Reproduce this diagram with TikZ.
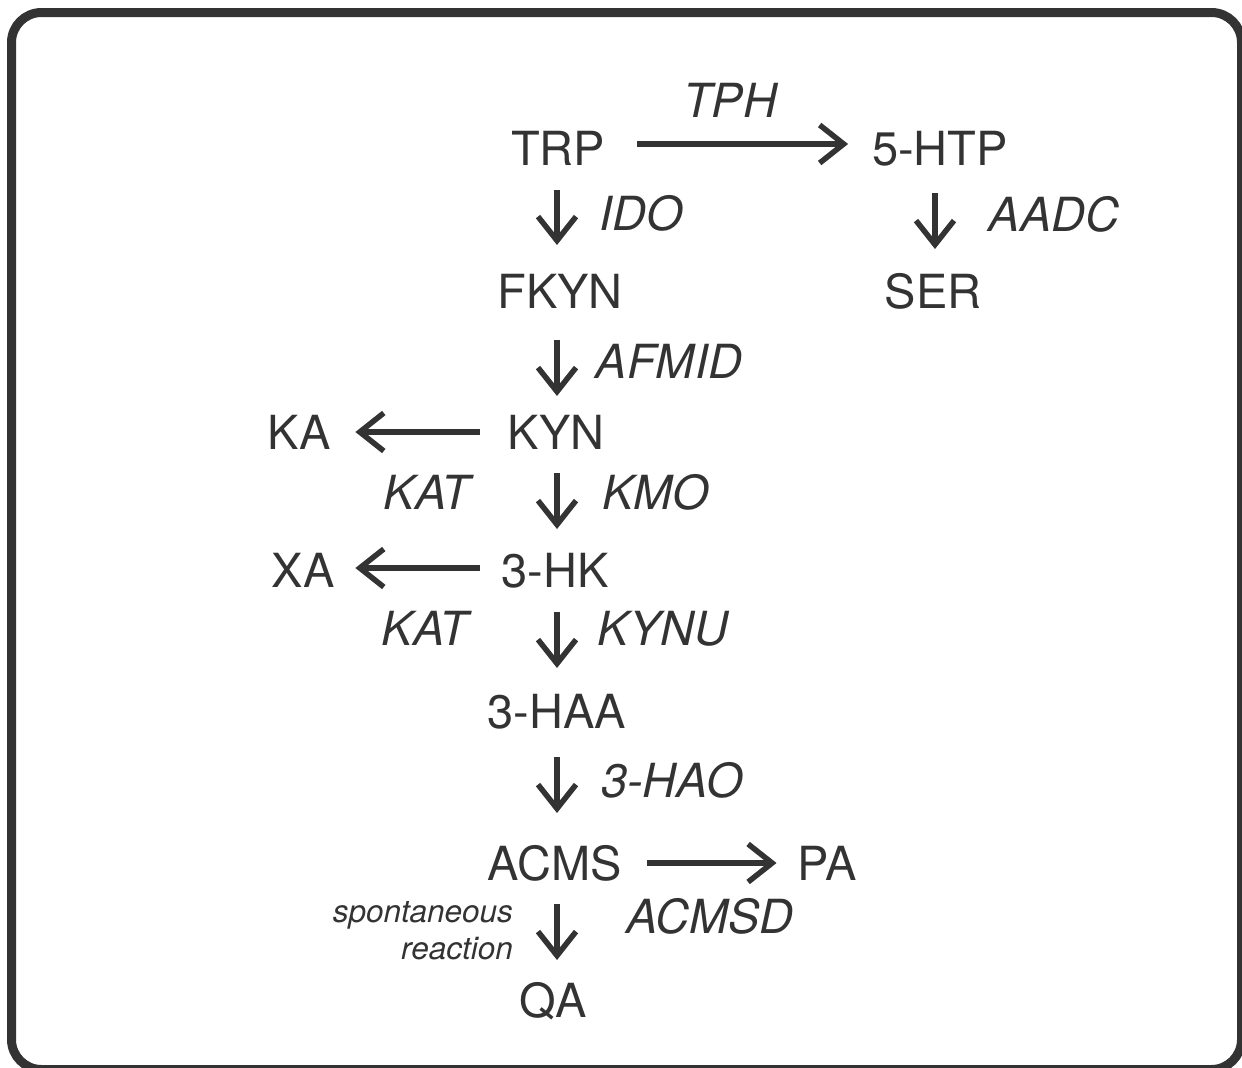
\documentclass[tikz,border=0pt]{standalone}
\usepackage{fontspec}
\setmainfont{TeX Gyre Heros}
\usetikzlibrary{arrows.meta}
\definecolor{ink}{RGB}{51,51,51}
\begin{document}
\begin{tikzpicture}[x=1pt,y=-1pt,
  species/.style={font=\fontsize{47}{50}\selectfont, text=ink, inner sep=0pt, outer sep=0pt, anchor=base, text height=34pt, text depth=0pt},
  enzyme/.style={font=\fontsize{47}{50}\selectfont\itshape, text=ink, inner sep=0pt, anchor=base},
  note/.style={font=\fontsize{31.5}{34}\selectfont\itshape, text=ink, inner sep=0pt, anchor=base east},
  arr/.style={draw=ink, line width=5.5pt, -{Straight Barb[length=24pt,width=38pt,sharp]}},
  frame/.style={draw=ink, line width=9pt, rounded corners=30pt}]
\useasboundingbox (0,0) rectangle (1242,1068);
\draw[frame] (11.5,12.5) rectangle (1241.5,1069.5);

\coordinate (colA) at (557,0);
\coordinate (colB) at (935,0);

% species
\node[species] (TRP)  at (558,165) {TRP};
\node[species] (HTP)  at (940,165) {5-HTP};
\node[species] (FKYN) at (560,308) {FKYN};
\node[species] (SER)  at (933,308) {SER};
\node[species] (KYN)  at (556,449) {KYN};
\node[species] (KA)   at (299,449) {KA};
\node[species] (HK)   at (555,587) {3-HK};
\node[species] (XA)   at (303,587) {XA};
\node[species] (HAA)  at (557,728) {3-HAA};
\node[species] (ACMS) at (555,880) {ACMS};
\node[species] (PA)   at (827,880) {PA};
\node[species] (QA)   at (553,1017) {QA};

% enzymes
\node[enzyme] (TPH)   at (730,117) {TPH};
\node[enzyme] (IDO)   at (641,230) {IDO};
\node[enzyme] (AADC)  at (1054,231) {AADC};
\node[enzyme] (AFMID) at (669,378) {AFMID};
\node[enzyme] (KMO)   at (656,509) {KMO};
\node[enzyme] (KAT1)  at (427,509) {KAT};
\node[enzyme] (KYNU)  at (663,645) {KYNU};
\node[enzyme] (KAT2)  at (425,645) {KAT};
\node[enzyme] (HAO)   at (672,797) {3-HAO};
\node[enzyme] (ACMSD) at (710,933) {ACMSD};
\node[note] (spont) at (513,922) {spontaneous};
\node[note] (react) at (513,959) {reaction};

% horizontal arrows
\draw[arr, shorten <=32pt, shorten >=24pt] ([yshift=4pt]TRP.east) -- ([yshift=4pt]HTP.west);
\draw[arr, shorten <=28pt, shorten >=25pt] (KYN.west) -- (KA.east);
\draw[arr, shorten <=21pt, shorten >=21pt] ([yshift=2pt]HK.west) -- ([yshift=2pt]XA.east);
\draw[arr, shorten <=25pt, shorten >=21pt] (ACMS.east) -- (PA.west);

% vertical arrows
\draw[arr, shorten <=25pt, shorten >=29pt] (TRP.south -| colA) -- (FKYN.north -| colA);
\draw[arr, shorten <=28pt, shorten >=25pt] (HTP.south -| colB) -- (SER.north -| colB);
\draw[arr, shorten <=32pt, shorten >=19pt] (FKYN.south -| colA) -- (KYN.north -| colA);
\draw[arr, shorten <=24pt, shorten >=24pt] (KYN.south -| colA) -- (HK.north -| colA);
\draw[arr, shorten <=25pt, shorten >=26pt] (HK.south -| colA) -- (HAA.north -| colA);
\draw[arr, shorten <=29pt, shorten >=33pt] (HAA.south -| colA) -- (ACMS.north -| colA);
\draw[arr, shorten <=24pt, shorten >=23pt] (ACMS.south -| colA) -- (QA.north -| colA);
\end{tikzpicture}
\end{document}
